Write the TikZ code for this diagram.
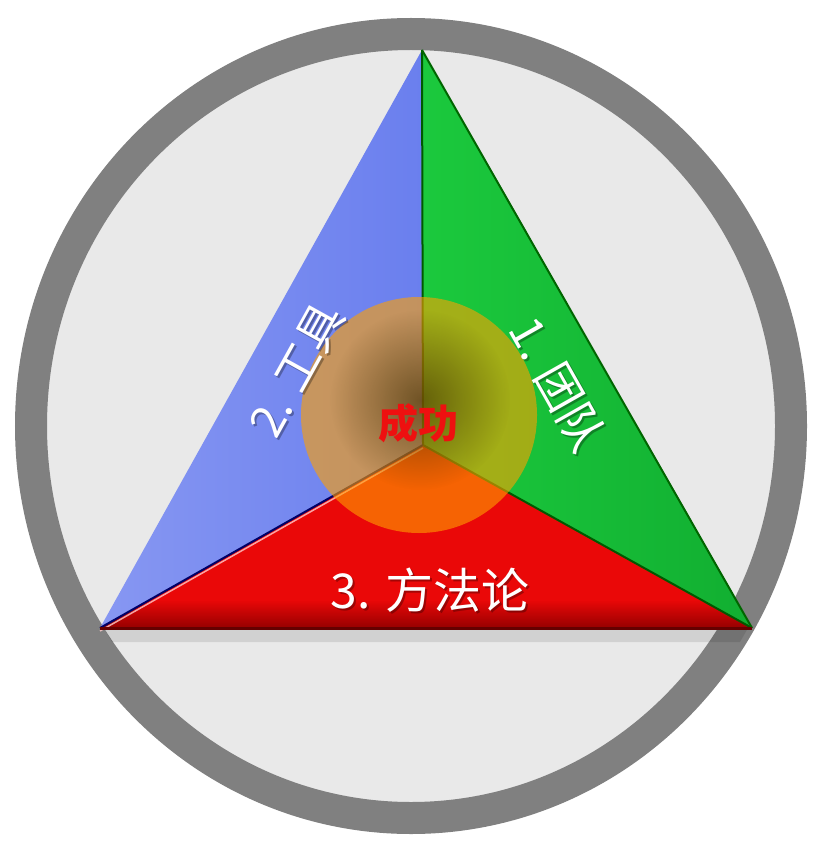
\documentclass[tikz,border=0pt]{standalone}
\usepackage{fontspec}
\newfontfamily\cjk{Noto Sans CJK SC}
\usetikzlibrary{fadings}
\tikzfading[name=myglow, inner color=transparent!0, outer color=transparent!100]
\tikzfading[name=fadedown, top color=transparent!100, bottom color=transparent!0]
\definecolor{ringgray}{HTML}{808080}
\definecolor{innergray}{HTML}{E9E9E9}
\definecolor{bluetri}{HTML}{6A7FEE}
\definecolor{bluelight}{HTML}{8797F2}
\definecolor{greentri}{HTML}{1BC93D}
\definecolor{greendark}{HTML}{0FA82E}
\definecolor{redtri}{HTML}{EA0808}
\definecolor{reddark}{HTML}{900000}
\definecolor{orangeglow}{HTML}{FFA000}
\definecolor{glowdark}{HTML}{3A2A00}
\definecolor{successred}{HTML}{EE1010}
\tikzset{
  lbl/.style={text=white, font=\cjk\fontsize{46}{46}\selectfont, inner sep=0pt},
  lblshadow/.style={text=black, opacity=0.3, font=\cjk\fontsize{46}{46}\selectfont, inner sep=0pt},
}
\begin{document}
\begin{tikzpicture}[x=1pt,y=-1pt]
\useasboundingbox (0,0) rectangle (816,850);
\fill[white] (0,0) rectangle (816,850);
% circle
\coordinate (C) at (411,426);
\fill[innergray] (C) ellipse [x radius=380pt, y radius=392pt];
\draw[ringgray, line width=32pt] (C) ellipse [x radius=380pt, y radius=392pt];
% triangle points
\coordinate (A) at (422,50);
\coordinate (L) at (100,628);
\coordinate (R) at (752,628);
\coordinate (O) at (423,445);
% shadow below bottom edge
\fill[black, opacity=0.10] (104,628) -- (748,628) -- (740,642) -- (112,642) -- cycle;
% blue
\shade[left color=bluelight, right color=bluetri] (A) -- (O) -- (L) -- cycle;
% green
\shade[left color=greentri, right color=greendark!80!greentri] (A) -- (O) -- (R) -- cycle;
% red
\fill[redtri] (L) -- (O) -- (R) -- cycle;
\begin{scope}
  \clip (L) -- (O) -- (R) -- cycle;
  \fill[reddark, path fading=fadedown] (90,600) rectangle (760,630);
\end{scope}
% edges
\draw[line width=2pt, draw=black!65!green] (A) -- (O);
\draw[line width=2pt, draw=blue!40!black] (L) -- (O);
\draw[line width=1.5pt, draw=pink!80!white, opacity=0.8] ([yshift=-3pt]L) -- ([yshift=-3pt]O);
\draw[line width=2pt, draw=green!35!black] (O) -- (R);
\draw[line width=2pt, draw=green!40!black] (A) -- (R);
\draw[line width=3pt, draw=reddark!70!black] (L) -- (R);
% orange circle
\coordinate (G) at (419,415);
\fill[orangeglow, opacity=0.6] (G) circle [radius=118pt];
\fill[glowdark, opacity=0.6, path fading=myglow] (420,400) circle [radius=90pt];
% labels
\node[lblshadow, rotate=-60.5] at (560,386) {1. 团队};
\node[lbl, rotate=-60.5] (team) at (558,384) {1. 团队};
\node[lblshadow, rotate=61] at (299,372) {2. 工具};
\node[lbl, rotate=61] (tool) at (297,370) {2. 工具};
\node[lblshadow, font=\cjk\fontsize{48}{48}\selectfont] at (432,592) {3. 方法论};
\node[lbl, font=\cjk\fontsize{48}{48}\selectfont] (method) at (430,590) {3. 方法论};
\node[text=successred, font=\cjk\bfseries\fontsize{40}{40}\selectfont, inner sep=0pt] (success) at (418,423) {成功};
\end{tikzpicture}
\end{document}
